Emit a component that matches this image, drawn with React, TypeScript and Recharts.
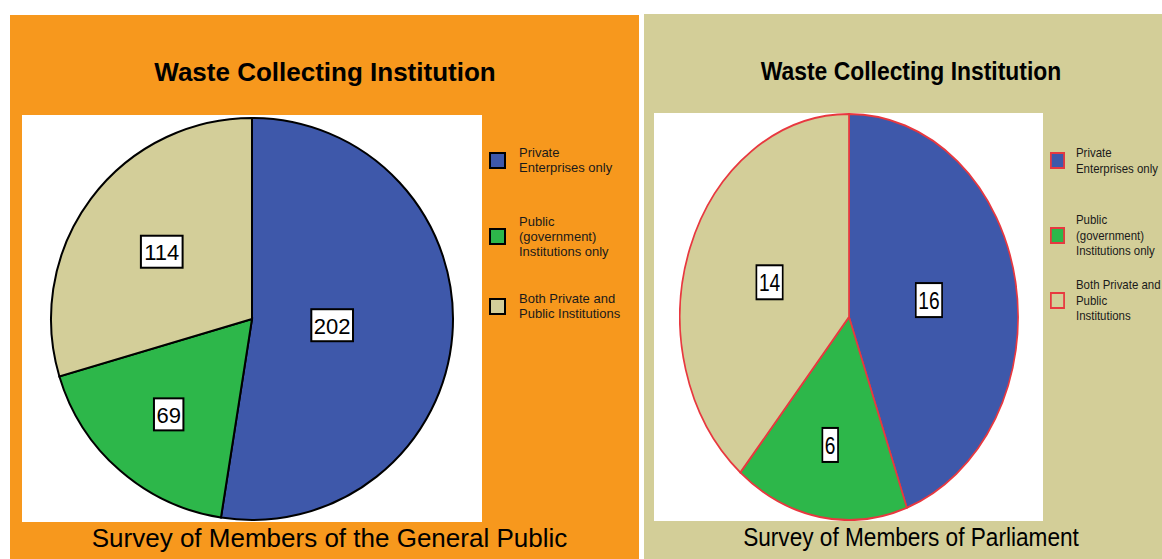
import { PieChart, Pie, Cell } from 'recharts';

// categories shared by both surveys
const categories = [
  'Private Enterprises only',
  'Public (government) Institutions only',
  'Both Private and Public Institutions',
];
// survey counts
const publicCounts = [202, 69, 114];
const parliamentCounts = [16, 6, 14];
// legend text, broken into lines as in the original
const publicLegendLines = [
  ['Private', 'Enterprises only'],
  ['Public', '(government)', 'Institutions only'],
  ['Both Private and', 'Public Institutions'],
];
const parliamentLegendLines = [
  ['Private', 'Enterprises only'],
  ['Public', '(government)', 'Institutions only'],
  ['Both Private and', 'Public', 'Institutions'],
];
const chartTitle = 'Waste Collecting Institution';
const publicCaption = 'Survey of Members of the General Public';
const parliamentCaption = 'Survey of Members of Parliament';

const SLICE_COLORS = ['#3E58AA', '#2DB74A', '#D3CE99'];
const FONT = '"Liberation Sans", Arial, Helvetica, sans-serif';

// how far out each value box sits (share of the radius)
const publicLabelRadius = [0.4, 0.63, 0.56];
const parliamentLabelRadius = [0.48, 0.64, 0.5];

function makeLabel(fractions: number[], fontSize: number, boxH: number, pad: number) {
  return (props: any) => {
    const { cx, cy, midAngle, outerRadius, index, value } = props;
    const r = outerRadius * fractions[index];
    const rad = (-midAngle * Math.PI) / 180;
    const x = cx + r * Math.cos(rad);
    const y = cy + r * Math.sin(rad);
    const w = String(value).length * fontSize * 0.556 + pad;
    return (
      <g key={`lbl-${index}`}>
        <rect x={x - w / 2} y={y - boxH / 2} width={w} height={boxH} fill="#fff" stroke="#000" strokeWidth={2} />
        <text x={x} y={y + 1} textAnchor="middle" dominantBaseline="central" fontSize={fontSize} fontFamily={FONT} fill="#000">
          {value}
        </text>
      </g>
    );
  };
}

interface LegendProps {
  lines: string[][];
  left: number;
  tops: number[];
  lineHeight: number;
  border: string;
  gap: number;
  scale: number;
}

function LegendBlock({ lines, left, tops, lineHeight, border, gap, scale }: LegendProps) {
  return (
    <>
      {lines.map((item, i) => (
        <div
          key={i}
          style={{
            position: 'absolute',
            left,
            top: tops[i],
            display: 'flex',
            alignItems: 'center',
            transform: `scaleX(${scale})`,
            transformOrigin: 'left center',
            whiteSpace: 'nowrap',
          }}
        >
          <div
            style={{
              width: 17,
              height: 17,
              boxSizing: 'border-box',
              border: `2px solid ${border}`,
              background: SLICE_COLORS[i],
              marginRight: gap,
              flex: 'none',
            }}
          />
          <div style={{ fontSize: 13, lineHeight: `${lineHeight}px`, color: '#1a1a1a' }}>
            {item.map((t, j) => (
              <div key={j}>{t}</div>
            ))}
          </div>
        </div>
      ))}
    </>
  );
}

export default function App() {
  const publicData = categories.map((name, i) => ({ name, value: publicCounts[i] }));
  const parliamentData = categories.map((name, i) => ({ name, value: parliamentCounts[i] }));

  const heading = (left: number, width: number, top: number, text: string, bold: boolean, scale: number) => (
    <div
      style={{
        position: 'absolute',
        left,
        width,
        top,
        textAlign: 'center',
        fontSize: 26,
        lineHeight: '26px',
        fontWeight: bold ? 'bold' : 'normal',
        color: '#000',
        whiteSpace: 'nowrap',
        transform: `scaleX(${scale})`,
        transformOrigin: 'center',
      }}
    >
      {text}
    </div>
  );

  return (
    <div
      style={{
        position: 'absolute',
        left: 0,
        top: 0,
        width: 1162,
        height: 559,
        background: '#fff',
        fontFamily: FONT,
        overflow: 'hidden',
      }}
    >
      {/* 일반 국민 조사 */}
      <div style={{ position: 'absolute', left: 10, top: 15, width: 629, height: 544, background: '#F7981D' }} />
      {heading(10, 630, 59, chartTitle, true, 1)}
      <div style={{ position: 'absolute', left: 22, top: 115, width: 460, height: 407, background: '#fff' }} />
      <div style={{ position: 'absolute', left: 22, top: 115 }}>
        <PieChart width={460} height={407} margin={{ top: 0, right: 0, bottom: 0, left: 0 }}>
          <Pie
            data={publicData}
            dataKey="value"
            nameKey="name"
            cx={230}
            cy={204}
            outerRadius={201}
            startAngle={90}
            endAngle={-270}
            stroke="#000"
            strokeWidth={2}
            labelLine={false}
            label={makeLabel(publicLabelRadius, 22, 32, 5)}
            isAnimationActive={false}
          >
            {publicData.map((_, i) => (
              <Cell key={`pc-${i}`} fill={SLICE_COLORS[i]} />
            ))}
          </Pie>
        </PieChart>
      </div>
      <LegendBlock lines={publicLegendLines} left={489} tops={[145, 214, 291]} lineHeight={15} border="#000" gap={13} scale={1} />
      {heading(0, 659, 525, publicCaption, false, 1)}

      {/* 국회의원 조사 */}
      <div style={{ position: 'absolute', left: 644, top: 14, width: 518, height: 545, background: '#D3CE98' }} />
      {heading(652, 518, 58, chartTitle, true, 0.88)}
      <div style={{ position: 'absolute', left: 654, top: 113, width: 389, height: 408, background: '#fff' }} />
      <div
        style={{
          position: 'absolute',
          left: 644.5,
          top: 113,
          width: 408,
          height: 408,
          transform: 'scaleX(0.833)',
          transformOrigin: 'center',
        }}
      >
        <PieChart width={408} height={408} margin={{ top: 0, right: 0, bottom: 0, left: 0 }}>
          <Pie
            data={parliamentData}
            dataKey="value"
            nameKey="name"
            cx={204}
            cy={204}
            outerRadius={203}
            startAngle={90}
            endAngle={-270}
            stroke="#E8383F"
            strokeWidth={2}
            labelLine={false}
            label={makeLabel(parliamentLabelRadius, 23, 34, 6)}
            isAnimationActive={false}
          >
            {parliamentData.map((_, i) => (
              <Cell key={`mc-${i}`} fill={SLICE_COLORS[i]} />
            ))}
          </Pie>
        </PieChart>
      </div>
      <LegendBlock lines={parliamentLegendLines} left={1050} tops={[145, 212, 277]} lineHeight={15.5} border="#E8383F" gap={12.5} scale={0.88} />
      {heading(652, 518, 524, parliamentCaption, false, 0.87)}
    </div>
  );
}
